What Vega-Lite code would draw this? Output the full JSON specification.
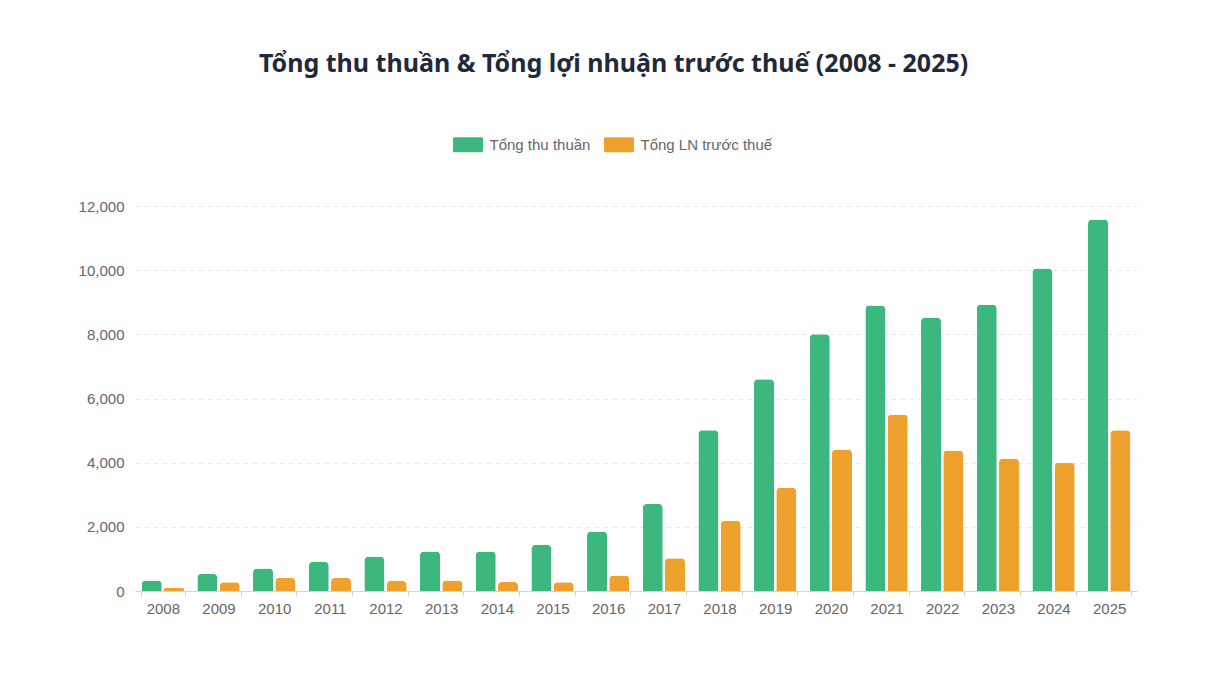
{
  "$schema": "https://vega.github.io/schema/vega-lite/v6.json",
  "width": 1002,
  "height": 385,
  "autosize": {"type": "none"},
  "padding": {"left": 135, "top": 206, "right": 90, "bottom": 86},
  "background": "#ffffff",
  "title": {
    "text": "Tổng thu thuần & Tổng lợi nhuận trước thuế (2008 - 2025)",
    "font": "Noto Sans",
    "fontSize": 25,
    "fontWeight": "bold",
    "color": "#1e293b",
    "anchor": "middle",
    "frame": "bounds",
    "offset": 60,
    "dx": 6
  },
  "data": {
    "values": [
      {"year": "2008", "series": "Tổng thu thuần", "value": 330},
      {"year": "2008", "series": "Tổng LN trước thuế", "value": 95},
      {"year": "2009", "series": "Tổng thu thuần", "value": 530},
      {"year": "2009", "series": "Tổng LN trước thuế", "value": 270},
      {"year": "2010", "series": "Tổng thu thuần", "value": 700},
      {"year": "2010", "series": "Tổng LN trước thuế", "value": 405},
      {"year": "2011", "series": "Tổng thu thuần", "value": 905},
      {"year": "2011", "series": "Tổng LN trước thuế", "value": 405},
      {"year": "2012", "series": "Tổng thu thuần", "value": 1065},
      {"year": "2012", "series": "Tổng LN trước thuế", "value": 310},
      {"year": "2013", "series": "Tổng thu thuần", "value": 1230},
      {"year": "2013", "series": "Tổng LN trước thuế", "value": 325},
      {"year": "2014", "series": "Tổng thu thuần", "value": 1235},
      {"year": "2014", "series": "Tổng LN trước thuế", "value": 280},
      {"year": "2015", "series": "Tổng thu thuần", "value": 1430},
      {"year": "2015", "series": "Tổng LN trước thuế", "value": 270},
      {"year": "2016", "series": "Tổng thu thuần", "value": 1855},
      {"year": "2016", "series": "Tổng LN trước thuế", "value": 480},
      {"year": "2017", "series": "Tổng thu thuần", "value": 2710},
      {"year": "2017", "series": "Tổng LN trước thuế", "value": 1020},
      {"year": "2018", "series": "Tổng thu thuần", "value": 5010},
      {"year": "2018", "series": "Tổng LN trước thuế", "value": 2190},
      {"year": "2019", "series": "Tổng thu thuần", "value": 6600},
      {"year": "2019", "series": "Tổng LN trước thuế", "value": 3220},
      {"year": "2020", "series": "Tổng thu thuần", "value": 8000},
      {"year": "2020", "series": "Tổng LN trước thuế", "value": 4410},
      {"year": "2021", "series": "Tổng thu thuần", "value": 8900},
      {"year": "2021", "series": "Tổng LN trước thuế", "value": 5500},
      {"year": "2022", "series": "Tổng thu thuần", "value": 8515},
      {"year": "2022", "series": "Tổng LN trước thuế", "value": 4380},
      {"year": "2023", "series": "Tổng thu thuần", "value": 8920},
      {"year": "2023", "series": "Tổng LN trước thuế", "value": 4130},
      {"year": "2024", "series": "Tổng thu thuần", "value": 10050},
      {"year": "2024", "series": "Tổng LN trước thuế", "value": 4000},
      {"year": "2025", "series": "Tổng thu thuần", "value": 11580},
      {"year": "2025", "series": "Tổng LN trước thuế", "value": 5010}
    ]
  },
  "mark": {"type": "bar", "cornerRadiusTopLeft": 4, "cornerRadiusTopRight": 4},
  "encoding": {
    "x": {
      "field": "year",
      "type": "nominal",
      "sort": null,
      "scale": {"paddingInner": 0.2, "paddingOuter": 0.1},
      "axis": {
        "title": null,
        "labelAngle": 0,
        "tickBand": "extent",
        "tickSize": 5,
        "tickColor": "#d4d4d4",
        "domainColor": "#d4d4d4",
        "labelPadding": 5,
        "grid": false
      }
    },
    "xOffset": {
      "field": "series",
      "type": "nominal",
      "sort": ["Tổng thu thuần", "Tổng LN trước thuế"],
      "scale": {"paddingInner": 0.1, "paddingOuter": 0.05}
    },
    "y": {
      "field": "value",
      "type": "quantitative",
      "scale": {"domain": [0, 12000], "nice": false},
      "axis": {
        "title": null,
        "values": [0, 2000, 4000, 6000, 8000, 10000, 12000],
        "format": ",d",
        "domain": false,
        "ticks": false,
        "labelPadding": 11,
        "gridColor": "#e8ebee",
        "gridDash": [5, 4]
      }
    },
    "color": {
      "field": "series",
      "type": "nominal",
      "sort": ["Tổng thu thuần", "Tổng LN trước thuế"],
      "scale": {
        "domain": ["Tổng thu thuần", "Tổng LN trước thuế"],
        "range": ["#3cb87f", "#eea12c"]
      },
      "legend": {
        "title": null,
        "orient": "none",
        "direction": "horizontal",
        "legendX": 318,
        "legendY": -69,
        "symbolType": "M-1.8,-1H1.8A0.2,0.2 0 0 1 2,-0.8V0.8A0.2,0.2 0 0 1 1.8,1H-1.8A0.2,0.2 0 0 1 -2,0.8V-0.8A0.2,0.2 0 0 1 -1.8,-1Z",
        "symbolSize": 225,
        "symbolOpacity": 1,
        "symbolStrokeWidth": 0,
        "symbolOffset": 7.5,
        "labelOffset": 14,
        "columnPadding": 13,
        "labelFont": "Liberation Sans",
        "labelFontSize": 15,
        "labelColor": "#666666"
      }
    }
  },
  "config": {
    "view": {"stroke": null},
    "axis": {
      "labelFont": "Liberation Sans",
      "labelFontSize": 15,
      "labelColor": "#666666"
    }
  }
}
